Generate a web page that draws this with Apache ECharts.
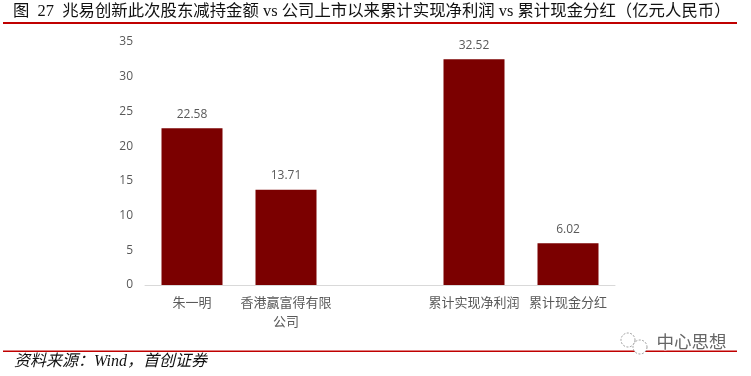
<!DOCTYPE html>
<html>
<head>
<meta charset="utf-8">
<script src="https://cdn.jsdelivr.net/npm/echarts@6/dist/echarts.min.js"></script>
<style>
html,body{margin:0;padding:0;background:#fff;}
#main{width:751px;height:376px;}
</style>
</head>
<body>
<div id="main"></div>
<script>
var categories = ['朱一明', '香港赢富得有限\n公司', '', '累计实现净利润', '累计现金分红'];
var amounts = [22.58, 13.71, null, 32.52, 6.02];
var yTicks = { min: 0, max: 35, interval: 5 };
var titleText = '图  27  兆易创新此次股东减持金额 vs 公司上市以来累计实现净利润 vs 累计现金分红（亿元人民币）';
var sourceText = '资料来源：Wind，首创证券';
var watermarkText = '中心思想';

var myChart = echarts.init(document.getElementById('main'), null, { renderer: 'canvas' });
var option = {
	animation: false,
	backgroundColor: '#fff',
	grid: { left: 145, right: 136, top: 42, bottom: 91 },
	xAxis: {
		type: 'category',
		data: categories,
		axisTick: { show: false },
		axisLine: { lineStyle: { color: '#d9d9d9', width: 1 } },
		axisLabel: {
			interval: 0,
			color: '#595959',
			fontSize: 13,
			lineHeight: 19,
			margin: 8,
			fontFamily: '"Noto Sans CJK SC"'
		}
	},
	yAxis: {
		type: 'value',
		min: yTicks.min,
		max: yTicks.max,
		interval: yTicks.interval,
		axisLine: { show: false },
		axisTick: { show: false },
		splitLine: { show: false },
		axisLabel: { color: '#595959', fontSize: 12, margin: 12, fontFamily: '"Open Sans"' }
	},
	series: [{
		type: 'bar',
		data: amounts,
		barWidth: 61,
		itemStyle: { color: '#7b0000' },
		label: {
			show: true,
			position: 'top',
			distance: 8,
			color: '#595959',
			fontSize: 12,
			fontFamily: '"Open Sans"',
			formatter: function (p) { return p.value.toFixed(2); }
		}
	}],
	graphic: [
		{ type: 'text', left: 13, top: 4, style: { text: titleText, fill: '#111', font: '16.4px "Liberation Serif", "Noto Sans CJK SC"' } },
		{ type: 'rect', shape: { x: 3, y: 22, width: 734, height: 2 }, style: { fill: '#c00000' } },
		{ type: 'rect', shape: { x: 3, y: 350.5, width: 734, height: 1.5 }, style: { fill: '#c00000' } },
		{ type: 'text', left: 14, top: 354, style: { text: sourceText, fill: '#111', font: 'italic 16px "Liberation Serif", "Noto Sans CJK SC"' } },
		{ type: 'circle', shape: { cx: 628, cy: 340, r: 7 }, style: { fill: '#fff', stroke: '#777', lineWidth: 0.7, lineDash: [2, 1.5] } },
		{ type: 'circle', shape: { cx: 640, cy: 347, r: 7 }, style: { fill: '#fff', stroke: '#777', lineWidth: 0.7, lineDash: [2, 1.5] } },
		{ type: 'text', left: 656, top: 332, style: { text: watermarkText, fill: '#666', stroke: '#fff', lineWidth: 1, font: '17.5px "Noto Sans CJK SC"' } }
	]
};
myChart.setOption(option);
</script>
</body>
</html>
